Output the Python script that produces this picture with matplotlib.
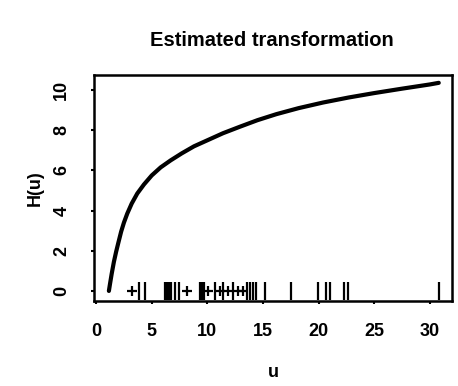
import matplotlib
matplotlib.use("Agg")
import matplotlib.pyplot as plt

plt.rcParams['font.family'] = ['Liberation Sans', 'DejaVu Sans']

# Estimated transformation curve
u_curve = [1.15, 1.25, 1.4, 1.6, 1.8, 2.0, 2.25, 2.5, 2.8, 3.2, 3.7, 4.3, 5.0,
           5.8, 6.7, 7.7, 8.8, 10.0, 11.4, 12.9, 14.5, 16.2, 18.2, 20.4, 22.7,
           25.0, 27.5, 30.0, 30.8]
h_curve = [0.0, 0.35, 0.85, 1.45, 1.95, 2.4, 2.95, 3.4, 3.85, 4.35, 4.85, 5.3, 5.75,
           6.15, 6.5, 6.85, 7.2, 7.5, 7.85, 8.17, 8.5, 8.8, 9.1, 9.38, 9.63,
           9.85, 10.07, 10.28, 10.36]

# observations shown as "|" at H = 0
u_bar = [3.88, 4.39, 6.19, 6.28, 6.37, 6.46, 6.55, 6.64, 6.73, 7.09, 7.47,
         9.33, 9.42, 9.51, 9.62, 9.73, 10.67, 11.39, 12.29, 13.52, 13.81, 14.11,
         14.41, 15.22, 17.55, 19.94, 20.69, 20.99, 22.27, 22.63, 30.79]
# observations shown as "+" at H = 0
u_plus = [3.2, 8.13, 10.04, 11.12, 11.84, 12.74, 13.2]

x_ticks = [0, 5, 10, 15, 20, 25, 30]
y_ticks = [0, 2, 4, 6, 8, 10]

fig = plt.figure(figsize=(4.58, 3.86), dpi=100)
ax = fig.add_axes([0.2052, 0.2202, 0.7817, 0.5855])

ax.plot(u_curve, h_curve, color='black', lw=3.0, solid_capstyle='round',
        solid_joinstyle='round')
ax.plot(u_bar, [0] * len(u_bar), ls='none', marker='|', ms=13, mew=1.6, color='black')
ax.plot(u_plus, [0] * len(u_plus), ls='none', marker='+', ms=7, mew=1.6, color='black')

ax.set_xlim(-0.19, 31.99)
ax.set_ylim(-0.5, 10.75)
ax.set_xticks(x_ticks)
ax.set_yticks(y_ticks)
ax.set_xticklabels([str(t) for t in x_ticks], fontsize=13, fontweight='bold')
ax.set_yticklabels([str(t) for t in y_ticks], fontsize=13, fontweight='bold',
                   rotation=90, va='center')
ax.tick_params(axis='both', direction='out', length=2, width=1.5)
ax.tick_params(axis='x', pad=14)
ax.tick_params(axis='y', pad=15)
for s in ax.spines.values():
    s.set_linewidth(1.8)

ax.set_xlabel('u', fontsize=13, fontweight='bold')
ax.xaxis.set_label_coords(0.5, -0.28)
ax.set_ylabel('H(u)', fontsize=13, fontweight='bold')
ax.yaxis.set_label_coords(-0.14, 0.5)

fig.text(0.594, 0.896, 'Estimated transformation', fontsize=14.5, fontweight='bold',
         ha='center', va='center')

fig.savefig('out.png', dpi=100)
